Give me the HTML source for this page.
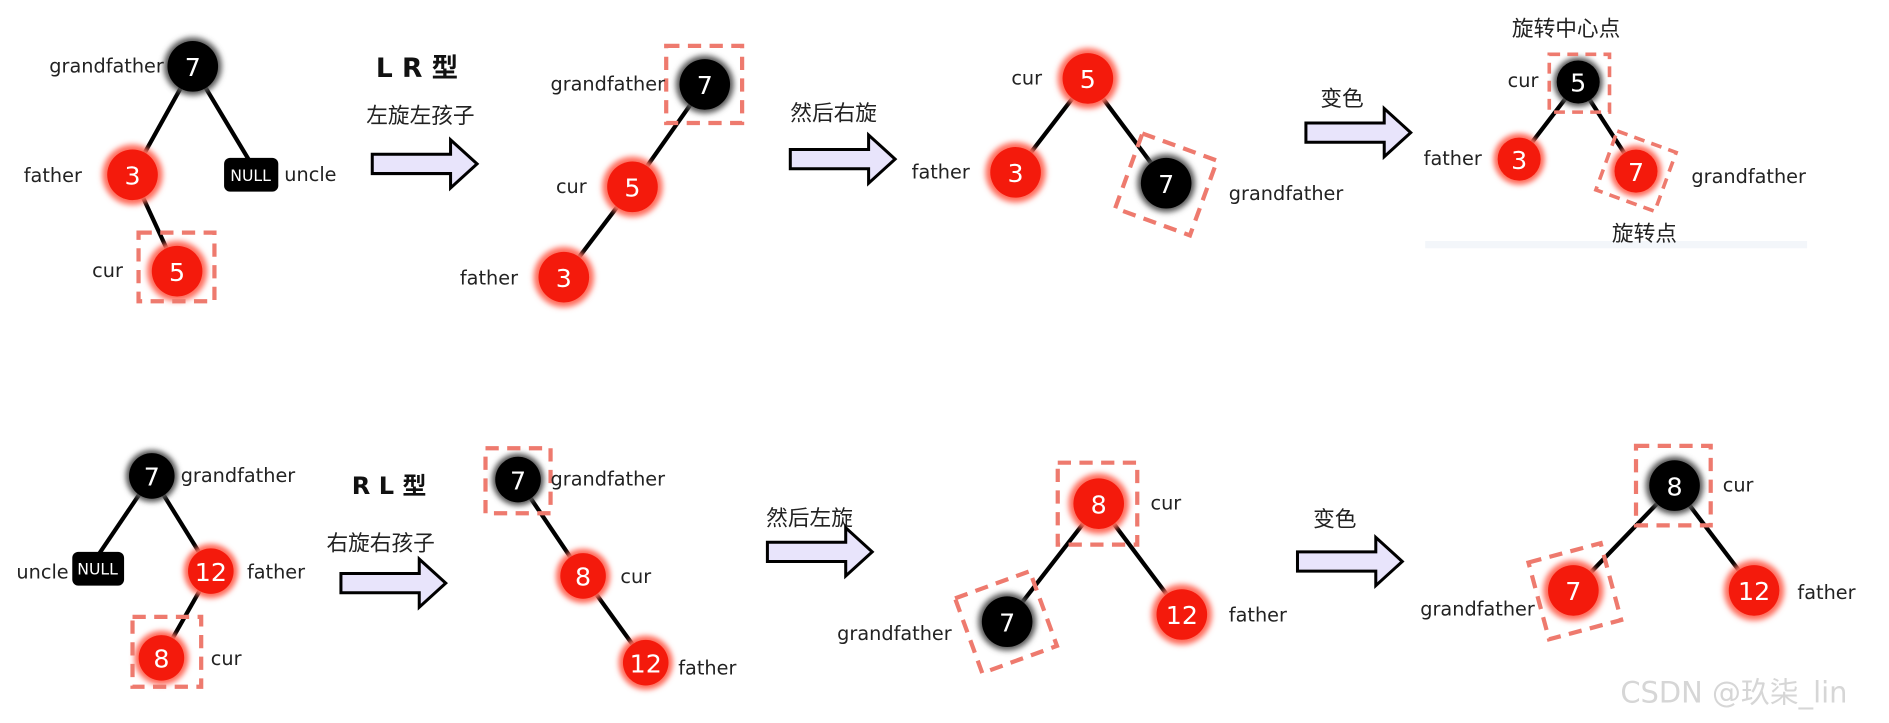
<!DOCTYPE html>
<html><head><meta charset="utf-8"><style>
html,body{margin:0;padding:0;background:#fff;}
svg{display:block}
text{font-family:"DejaVu Sans","Liberation Sans","Noto Sans CJK SC",sans-serif;}
.l{font-size:16px;fill:#222}
.cn{font-family:"Liberation Sans","Noto Sans CJK SC",sans-serif;font-size:18px;fill:#222}
.n{font-size:21px;fill:#fff;text-anchor:middle;dominant-baseline:central}
.e{stroke:#000;stroke-width:3.5}
.d{fill:none;stroke:#ee7a6e;stroke-width:3.5;stroke-dasharray:11,7}
.ar{fill:#e8e4fb;stroke:#000;stroke-width:2.5;stroke-linejoin:miter}
</style></head><body>
<svg width="1889" height="723" viewBox="0 0 1568 600" xmlns="http://www.w3.org/2000/svg">
<defs>
<filter id="g" x="-50%" y="-50%" width="200%" height="200%"><feGaussianBlur stdDeviation="2.5"/></filter>
<g id="R"><circle r="25" fill="#ff6a5a" filter="url(#g)"/><circle r="21" fill="#f41a0c"/></g>
<g id="B"><circle r="24" fill="#555" filter="url(#g)"/><circle r="21" fill="#000"/></g>
<path id="A" d="M0,6 H65 V-6 L87,14 L65,34 V22 H0 Z"/>
</defs>
<rect x="1183" y="200" width="317" height="6" fill="#f3f6fa"/>

<!-- Tree 1 -->
<line class="e" x1="160" y1="55" x2="110" y2="145"/><line class="e" x1="160" y1="55" x2="208" y2="135"/><line class="e" x1="110" y1="145" x2="147" y2="225"/>
<use href="#B" x="160" y="55"/><text class="n" x="160" y="56">7</text>
<use href="#R" x="110" y="145"/><text class="n" x="110" y="146">3</text>
<use href="#R" x="147" y="225"/><text class="n" x="147" y="226">5</text>
<rect x="186" y="131" width="45" height="28" rx="5" fill="#000"/><text x="208" y="150" font-size="13" fill="#fff" text-anchor="middle">NULL</text>
<rect class="d" x="115" y="193" width="63" height="57"/>
<text class="l" x="136" y="60" text-anchor="end">grandfather</text>
<text class="l" x="68" y="151" text-anchor="end">father</text>
<text class="l" x="236" y="150">uncle</text>
<text class="l" x="102" y="230" text-anchor="end">cur</text>
<text x="312" y="64" font-size="22" font-weight="bold" fill="#111" font-family="Liberation Sans,Noto Sans CJK SC,sans-serif">L R 型</text>
<text class="cn" x="304" y="102" font-size="17">左旋左孩子</text>
<use href="#A" x="309" y="122" class="ar"/>

<!-- Tree 2 -->
<line class="e" x1="585" y1="70" x2="525" y2="155"/><line class="e" x1="525" y1="155" x2="468" y2="230"/>
<use href="#B" x="585" y="70"/><text class="n" x="585" y="71">7</text>
<use href="#R" x="525" y="155"/><text class="n" x="525" y="156">5</text>
<use href="#R" x="468" y="230"/><text class="n" x="468" y="231">3</text>
<rect class="d" x="553" y="38" width="63" height="64"/>
<text class="l" x="552" y="75" text-anchor="end">grandfather</text>
<text class="l" x="487" y="160" text-anchor="end">cur</text>
<text class="l" x="430" y="236" text-anchor="end">father</text>
<text class="cn" x="656" y="100" font-size="17">然后右旋</text>
<use href="#A" x="656" y="118" class="ar"/>

<!-- Tree 3 -->
<line class="e" x1="903" y1="65" x2="843" y2="143"/><line class="e" x1="903" y1="65" x2="968" y2="152"/>
<use href="#R" x="903" y="65"/><text class="n" x="903" y="66">5</text>
<use href="#R" x="843" y="143"/><text class="n" x="843" y="144">3</text>
<use href="#B" x="968" y="152"/><text class="n" x="968" y="153">7</text>
<rect class="d" x="935" y="120" width="66" height="66" transform="rotate(20 968 153)"/>
<text class="l" x="865" y="70" text-anchor="end">cur</text>
<text class="l" x="805" y="148" text-anchor="end">father</text>
<text class="l" x="1020" y="166">grandfather</text>
<text class="cn" x="1096" y="88" font-size="19">变色</text>
<use href="#A" x="1084" y="96" class="ar"/>

<!-- Tree 4 -->
<line class="e" x1="1310" y1="68" x2="1261" y2="132"/><line class="e" x1="1310" y1="68" x2="1358" y2="142"/>
<g transform="translate(1310 68) scale(0.85)"><use href="#B"/></g><text class="n" x="1310" y="69" font-size="18">5</text>
<g transform="translate(1261 132) scale(0.85)"><use href="#R"/></g><text class="n" x="1261" y="133" font-size="18">3</text>
<g transform="translate(1358 142) scale(0.85)"><use href="#R"/></g><text class="n" x="1358" y="143" font-size="18">7</text>
<rect class="d" x="1286" y="45" width="50" height="48" style="stroke-width:3;stroke-dasharray:9,6"/>
<rect class="d" x="1332" y="116" width="52" height="52" transform="rotate(20 1358 142)" style="stroke-width:3;stroke-dasharray:9,6"/>
<text class="cn" x="1255" y="30" font-size="15">旋转中心点</text>
<text class="l" x="1277" y="72" text-anchor="end" font-size="13">cur</text>
<text class="l" x="1230" y="137" text-anchor="end" font-size="14">father</text>
<text class="l" x="1404" y="152" font-size="14">grandfather</text>
<text class="cn" x="1338" y="200" font-size="15">旋转点</text>

<!-- Bottom tree 1 -->
<line class="e" x1="126" y1="395" x2="82" y2="460"/><line class="e" x1="126" y1="395" x2="175" y2="474"/><line class="e" x1="175" y1="474" x2="134" y2="546"/>
<g transform="translate(126 395) scale(0.9)"><use href="#B"/></g><text class="n" x="126" y="396">7</text>
<g transform="translate(175 474) scale(0.9)"><use href="#R"/></g><text class="n" x="175" y="475">12</text>
<g transform="translate(134 546) scale(0.9)"><use href="#R"/></g><text class="n" x="134" y="547">8</text>
<rect x="60" y="458" width="43" height="28" rx="5" fill="#000"/><text x="81" y="477" font-size="13" fill="#fff" text-anchor="middle">NULL</text>
<rect class="d" x="110" y="512" width="57" height="58"/>
<text class="l" x="150" y="400">grandfather</text>
<text class="l" x="57" y="480" text-anchor="end">uncle</text>
<text class="l" x="205" y="480">father</text>
<text class="l" x="175" y="552">cur</text>
<text x="292" y="410" font-size="20" font-weight="bold" fill="#111" font-family="Liberation Sans,Noto Sans CJK SC,sans-serif">R L 型</text>
<text class="cn" x="271" y="457" font-size="18">右旋右孩子</text>
<use href="#A" x="283" y="470" class="ar"/>

<!-- Bottom tree 2 -->
<line class="e" x1="430" y1="398" x2="484" y2="478"/><line class="e" x1="484" y1="478" x2="536" y2="550"/>
<g transform="translate(430 398) scale(0.9)"><use href="#B"/></g><text class="n" x="430" y="399">7</text>
<g transform="translate(484 478) scale(0.9)"><use href="#R"/></g><text class="n" x="484" y="479">8</text>
<g transform="translate(536 550) scale(0.9)"><use href="#R"/></g><text class="n" x="536" y="551">12</text>
<rect class="d" x="403" y="372" width="54" height="54"/>
<text class="l" x="457" y="403">grandfather</text>
<text class="l" x="515" y="484">cur</text>
<text class="l" x="563" y="560">father</text>
<text class="cn" x="636" y="436" font-size="19">然后左旋</text>
<use href="#A" x="637" y="444" class="ar"/>

<!-- Bottom tree 3 -->
<line class="e" x1="912" y1="418" x2="836" y2="516"/><line class="e" x1="912" y1="418" x2="981" y2="510"/>
<use href="#R" x="912" y="418"/><text class="n" x="912" y="419">8</text>
<use href="#B" x="836" y="516"/><text class="n" x="836" y="517">7</text>
<use href="#R" x="981" y="510"/><text class="n" x="981" y="511">12</text>
<rect class="d" x="878" y="384" width="66" height="68"/>
<rect class="d" x="802" y="483" width="66" height="66" transform="rotate(-20 836 516)"/>
<text class="l" x="955" y="423" font-size="18">cur</text>
<text class="l" x="790" y="531" text-anchor="end" font-size="18">grandfather</text>
<text class="l" x="1020" y="516" font-size="18">father</text>
<text class="cn" x="1090" y="437" font-size="19">变色</text>
<use href="#A" x="1077" y="452" class="ar"/>

<!-- Bottom tree 4 -->
<line class="e" x1="1390" y1="403" x2="1306" y2="490"/><line class="e" x1="1390" y1="403" x2="1456" y2="490"/>
<use href="#B" x="1390" y="403"/><text class="n" x="1390" y="404">8</text>
<use href="#R" x="1306" y="490"/><text class="n" x="1306" y="491">7</text>
<use href="#R" x="1456" y="490"/><text class="n" x="1456" y="491">12</text>
<rect class="d" x="1358" y="370" width="62" height="66"/>
<rect class="d" x="1276" y="458" width="62" height="66" transform="rotate(-15 1306 490)"/>
<text class="l" x="1430" y="408" font-size="18">cur</text>
<text class="l" x="1274" y="511" text-anchor="end" font-size="18">grandfather</text>
<text class="l" x="1492" y="497" font-size="18">father</text>

<text x="1345" y="583" font-size="24" fill="#d6d6d6" font-family="Liberation Sans,Noto Sans CJK SC,sans-serif">CSDN @玖柒_lin</text>
</svg>
</body></html>
